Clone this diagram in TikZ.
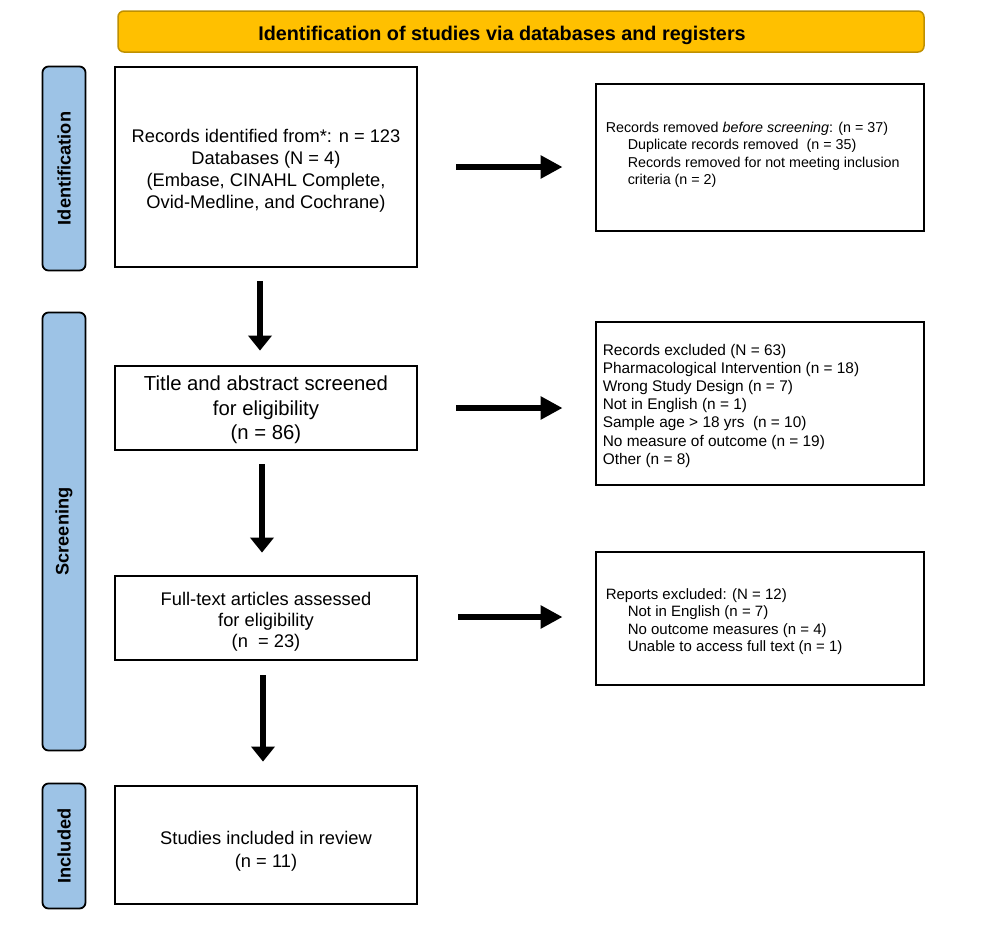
\documentclass[tikz,border=0pt]{standalone}
\usepackage{fontspec}
\setmainfont{Liberation Sans}
\usetikzlibrary{arrows.meta,calc}
\definecolor{hdrfill}{HTML}{FFC000}
\definecolor{hdrline}{HTML}{BF9000}
\definecolor{barfill}{HTML}{9DC3E6}
\tikzset{
  mainbox/.style={draw=black, line width=2.8pt, fill=white, inner sep=0pt, minimum width=302pt},
  sidebox/.style={draw=black, line width=2.8pt, fill=white, inner sep=0pt, minimum width=328pt},
  maintext/.style={align=center, inner sep=0pt},
  sidetext/.style={inner sep=0pt, anchor=west},
  phasebar/.style={draw=black, line width=1.8pt, fill=barfill, rounded corners=6pt, rotate=90, minimum height=43pt, inner sep=0pt, font=\bfseries\fontsize{18.2}{20}\selectfont},
  darrow/.style={line width=5.5pt, -{Triangle[length=15pt,width=23pt]}},
  rarrow/.style={line width=5.5pt, -{Triangle[length=22pt,width=22pt]}},
}
\newcommand{\indentline}{\hspace*{22pt}}
\begin{document}
\begin{tikzpicture}[x=1pt,y=-1pt]
\useasboundingbox (0,0) rectangle (986,927);
\fill[white] (0,0) rectangle (986,927);

% header
\node[draw=hdrline, line width=1.5pt, fill=hdrfill, rounded corners=6pt, minimum width=806pt, minimum height=41pt, inner sep=0pt] (hdr) at (521,31.5) {};
\node[inner sep=0pt, font=\bfseries\fontsize{19.8}{22}\selectfont] (hdrtext) at (502,35) {Identification of studies via databases and registers};

% phase bars
\node[phasebar, minimum width=204pt] (pid) at (64,168.5) {Identification};
\node[phasebar, minimum width=438pt] (pscr) at (64,531.5) {Screening};
\node[phasebar, minimum width=125pt] (pinc) at (64,846) {Included};

% main boxes
\node[mainbox, minimum height=200pt] (b1) at (266,167) {};
\node[maintext, font=\fontsize{18.3}{22}\selectfont] (t1) at (266,170.5) {Records identified from*: n = 123\\Databases (N = 4)\\(Embase, CINAHL Complete,\\Ovid-Medline, and Cochrane)};
\node[mainbox, minimum height=84pt] (b2) at (266,408) {};
\node[maintext, font=\fontsize{20.3}{24.3}\selectfont] (t2) at (266,410) {Title and abstract screened\\for eligibility\\(n = 86)};
\node[mainbox, minimum height=84pt] (b3) at (266,618) {};
\node[maintext, font=\fontsize{18.3}{21}\selectfont] (t3) at (266,621.5) {Full-text articles assessed\\for eligibility\\(n \ = 23)};
\node[mainbox, minimum height=118pt] (b4) at (266,845) {};
\node[maintext, font=\fontsize{18.3}{23}\selectfont] (t4) at (266,851) {Studies included in review\\(n = 11)};

% side boxes
\node[sidebox, minimum height=147pt] (r1) at (760,157.5) {};
\node[sidetext, font=\fontsize{14.3}{17.3}\selectfont] (s1) at ([xshift=11pt, yshift=2.5pt]r1.west) {\begin{tabular}{@{}l@{}}
Records removed \textit{before screening}: (n = 37)\\
\indentline Duplicate records removed \ (n = 35)\\
\indentline Records removed for not meeting inclusion\\
\indentline criteria (n = 2)
\end{tabular}};
\node[sidebox, minimum height=163pt] (r2) at (760,403.5) {};
\node[sidetext, font=\fontsize{15.4}{18.2}\selectfont] (s2) at ([xshift=8pt, yshift=-2.5pt]r2.west) {\begin{tabular}{@{}l@{}}
Records excluded (N = 63)\\
Pharmacological Intervention (n = 18)\\
Wrong Study Design (n = 7)\\
Not in English (n = 1)\\
Sample age > 18 yrs \ (n = 10)\\
No measure of outcome (n = 19)\\
Other (n = 8)
\end{tabular}};
\node[sidebox, minimum height=133pt] (r3) at (760,618.5) {};
\node[sidetext, font=\fontsize{15}{17.5}\selectfont] (s3) at ([xshift=11pt, yshift=-3.5pt]r3.west) {\begin{tabular}{@{}l@{}}
Reports excluded: (N = 12)\\
\indentline Not in English (n = 7)\\
\indentline No outcome measures (n = 4)\\
\indentline Unable to access full text (n = 1)
\end{tabular}};

% down arrows
\draw[darrow, shorten <=13pt, shorten >=14pt] ([xshift=-6pt]b1.south) -- ([xshift=-6pt]b2.north);
\draw[darrow, shorten <=13pt, shorten >=22pt] ([xshift=-4pt]b2.south) -- ([xshift=-4pt]b3.north);
\draw[darrow, shorten <=14pt, shorten >=23pt] ([xshift=-3pt]b3.south) -- ([xshift=-3pt]b4.north);

% right arrows
\draw[rarrow, shorten <=38pt, shorten >=32pt] (b1.east) -- (b1.east -| r1.west);
\draw[rarrow, shorten <=38pt, shorten >=32pt] (b2.east) -- (b2.east -| r2.west);
\draw[rarrow, shorten <=40pt, shorten >=32pt] ([yshift=1pt]b3.east) -- ([yshift=1pt]b3.east -| r3.west);
\end{tikzpicture}
\end{document}
